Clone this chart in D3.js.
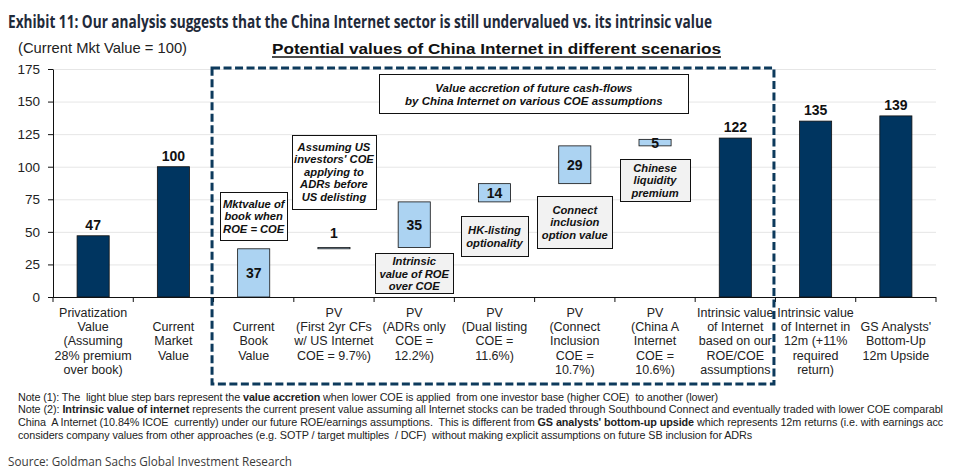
<!DOCTYPE html>
<html><head><meta charset="utf-8">
<script src="https://cdn.jsdelivr.net/npm/d3@7"></script>
<style>body{margin:0;background:#fff}svg{display:block}</style>
</head><body><svg id="c" width="977" height="473"></svg>
<script>
// ---------------- DATA ----------------
const categories = [
  ["Privatization","Value","(Assuming","28% premium","over book)"],
  ["Current","Market","Value"],
  ["Current","Book","Value"],
  ["PV","(First 2yr CFs","w/ US Internet","COE = 9.7%)"],
  ["PV","(ADRs only","COE =","12.2%)"],
  ["PV","(Dual listing","COE =","11.6%)"],
  ["PV","(Connect","Inclusion","COE =","10.7%)"],
  ["PV","(China A","Internet","COE =","10.6%)"],
  ["Intrinsic value","of Internet","based on our","ROE/COE","assumptions"],
  ["Intrinsic value","of Internet in","12m (+11%","required","return)"],
  ["GS Analysts'","Bottom-Up","12m Upside"]
];
const values = [47, 100, 37, 1, 35, 14, 29, 5, 122, 135, 139];
const bases  = [0, 0, 0, 37, 38, 73, 87, 116, 0, 0, 0];
const barTypes = ["value","value","accretion","accretion","accretion","accretion","accretion","accretion","value","value","value"];
const yTicks = [0, 25, 50, 75, 100, 125, 150, 175];
const annotationTexts = [
  ["Mktvalue of","book when","ROE = COE"],
  ["Assuming US","investors' COE","applying to","ADRs before","US delisting"],
  ["Intrinsic","value of ROE","over COE"],
  ["HK-listing","optionality"],
  ["Connect","inclusion","option value"],
  ["Chinese","liquidity","premium"],
  ["Value accretion of future cash-flows","by China Internet on various COE assumptions"]
];
const titleText = "Exhibit 11: Our analysis suggests that the China Internet sector is still undervalued vs. its intrinsic value";
const subtitleText = "(Current Mkt  Value = 100)";
const chartTitleText = "Potential  values  of China  Internet  in  different  scenarios";
const sourceText = "Source: Goldman Sachs Global Investment Research";

// ---------------- LAYOUT ----------------
const svg = d3.select("#c");
const FONT = "'Liberation Sans', Arial, sans-serif";
const DARK = "#003560", LIGHT = "#acd3f2";

const x = d3.scaleBand().domain(d3.range(categories.length)).range([53, 936]).padding(0);
const y = d3.scaleLinear().domain([0, 175]).range([297, 69]);
const barW = x.bandwidth() * 0.4;
const cx = i => x(i) + x.bandwidth() / 2;

// Title
svg.append("text").attr("x", 8).attr("y", 27.5)
  .attr("font-family", "'Open Sans', 'Noto Sans', sans-serif").attr("font-weight", 700)
  .attr("font-size", 17).attr("fill", "#1f2a3a")
  .attr("textLength", 704).attr("lengthAdjust", "spacingAndGlyphs")
  .text(titleText);

svg.append("text").attr("x", 18).attr("y", 52.5)
  .attr("font-family", FONT).attr("font-size", 14.5).attr("fill", "#222")
  .attr("textLength", 169).attr("lengthAdjust", "spacingAndGlyphs")
  .text(subtitleText);

svg.append("text").attr("x", 272).attr("y", 53.5)
  .attr("font-family", FONT).attr("font-weight", 700).attr("font-size", 15).attr("fill", "#111")
  .attr("textLength", 449).attr("lengthAdjust", "spacingAndGlyphs")
  .text(chartTitleText);
svg.append("line").attr("x1", 272).attr("x2", 721).attr("y1", 57).attr("y2", 57)
  .attr("stroke", "#111").attr("stroke-width", 1.6);

// Gridlines
svg.append("g").selectAll("line").data(yTicks.filter(d => d > 0)).join("line")
  .attr("x1", 53).attr("x2", 936).attr("y1", d => y(d) + 0.5).attr("y2", d => y(d) + 0.5)
  .attr("stroke", "#e6e6e6").attr("stroke-width", 1);

// Bars
svg.append("g").selectAll("rect").data(values).join("rect")
  .attr("x", (d, i) => cx(i) - barW / 2)
  .attr("width", barW)
  .attr("y", (d, i) => y(bases[i] + d))
  .attr("height", (d, i) => y(bases[i]) - y(bases[i] + d))
  .attr("fill", (d, i) => barTypes[i] === "value" ? DARK : LIGHT)
  .attr("stroke", "#111").attr("stroke-width", 0.8);

// Value labels
svg.append("g").selectAll("text").data(values).join("text")
  .attr("x", (d, i) => cx(i))
  .attr("y", (d, i) => {
    if (barTypes[i] === "accretion" && d >= 3) return (y(bases[i]) + y(bases[i] + d)) / 2 + 5;
    return y(bases[i] + d) - (barTypes[i] === "accretion" ? 9 : 6);
  })
  .attr("text-anchor", "middle").attr("font-family", FONT).attr("font-weight", 700)
  .attr("font-size", 14).attr("fill", "#111")
  .text(d => d);

// Y axis
const yAxis = svg.append("g").attr("transform", "translate(53,0)")
  .call(d3.axisLeft(y).tickValues(yTicks).tickSize(5).tickSizeOuter(0).tickPadding(8));
yAxis.select(".domain").attr("stroke", "#111");
yAxis.selectAll(".tick line").attr("stroke", "#111");
yAxis.selectAll("text").attr("font-family", FONT).attr("font-size", 13.5).attr("fill", "#222");

// X axis (boundaries between categories)
const bounds = d3.range(categories.length + 1).map(i => x.range()[0] + i * x.step());
const xg = svg.append("g");
xg.append("line").attr("x1", 53).attr("x2", 936).attr("y1", y(0) + 0.5).attr("y2", y(0) + 0.5)
  .attr("stroke", "#111");
xg.selectAll("line.t").data(bounds).join("line").attr("class", "t")
  .attr("x1", d => d).attr("x2", d => d).attr("y1", y(0)).attr("y2", y(0) + 5)
  .attr("stroke", "#111");

// X labels
const lbl = svg.append("g").attr("font-family", FONT).attr("font-size", 12.5).attr("fill", "#222")
  .attr("text-anchor", "middle");
categories.forEach((lines, i) => {
  const off = lines.length < 4 ? 1 : 0;
  const t = lbl.append("text");
  lines.forEach((ln, j) => {
    t.append("tspan").attr("x", cx(i)).attr("y", 317 + (j + off) * 14.2).text(ln);
  });
});

// Dashed box around the PV scenarios
svg.append("rect")
  .attr("x", bounds[2] - 1.5).attr("y", y(175) - 1)
  .attr("width", bounds[9] - bounds[2]).attr("height", 384 - (y(175) - 1))
  .attr("fill", "none").attr("stroke", "#0d3a5c").attr("stroke-width", 3)
  .attr("stroke-dasharray", "8,3.5");

// Annotation boxes (placed in data units)
const annLayout = [
  {c: 2,   w: 67,  top: 80.7,  bot: 43.7,  fill: "#ffffff"},
  {c: 3,   w: 84,  top: 124.7, bot: 68.0,  fill: "#ffffff"},
  {c: 4,   w: 78,  top: 33.5,  bot: 2.8,   fill: "#f2f2f2"},
  {c: 5,   w: 67,  top: 61.9,  bot: 31.4,  fill: "#f2f2f2"},
  {c: 6,   w: 75,  top: 77.4,  bot: 37.3,  fill: "#f2f2f2"},
  {c: 7,   w: 70,  top: 105.8, bot: 73.4,  fill: "#f2f2f2"},
  {c: 5.49, w: 309, top: 170.9, bot: 140.8, fill: "#ffffff"}
];
annLayout.forEach((a, k) => {
  const xc = x(0) + (a.c + 0.5) * x.step();
  const y0 = y(a.top), y1 = y(a.bot);
  const g = svg.append("g");
  g.append("rect").attr("x", Math.round(xc - a.w / 2) + 0.5).attr("y", Math.round(y0) + 0.5)
    .attr("width", a.w).attr("height", Math.round(y1 - y0))
    .attr("fill", a.fill).attr("stroke", "#111").attr("stroke-width", 1);
  const lines = annotationTexts[k];
  const lh = k === 6 ? 12.8 : 12.5;
  const mid = (y0 + y1) / 2;
  const t = g.append("text").attr("text-anchor", "middle").attr("font-family", FONT)
    .attr("font-weight", 700).attr("font-style", "italic").attr("font-size", k === 6 ? 11.5 : 11.2)
    .attr("fill", "#111");
  lines.forEach((ln, j) => {
    t.append("tspan").attr("x", xc).attr("y", mid + (j - (lines.length - 1) / 2) * lh + 4.2).text(ln);
  });
});

// Notes (fit each line to the reference width with letter-spacing)
const notes = svg.append("g").attr("font-family", FONT).attr("font-size", 10.8).attr("fill", "#222");
const noteLines = [
  {w: 700, parts: [["Note (1): The  light blue step bars represent the ", 400], ["value accretion", 700], [" when lower COE is applied  from one investor base (higher COE)  to another (lower)", 400]]},
  {w: 925, parts: [["Note (2): ", 400], ["Intrinsic value of internet", 700], [" represents the current present value assuming all Internet stocks can be traded through Southbound Connect and eventually traded with lower COE comparabl", 400]]},
  {w: 925, parts: [["China  A Internet (10.84% ICOE  currently) under our future ROE/earnings assumptions.  This is different from ", 400], ["GS analysts' bottom-up upside", 700], [" which represents 12m returns (i.e. with earnings acc", 400]]},
  {w: 734, parts: [["considers company values from other approaches (e.g. SOTP / target multiples  / DCF)  without making explicit assumptions on future SB inclusion for ADRs", 400]]}
];
noteLines.forEach((nl, j) => {
  const t = notes.append("text").attr("x", 18).attr("y", 400.7 + j * 12.7).style("white-space", "pre");
  nl.parts.forEach(p => t.append("tspan").attr("font-weight", p[1]).text(p[0]));
  const natural = t.node().getComputedTextLength();
  const nChars = nl.parts.reduce((s, p) => s + p[0].length, 0);
  const ls = Math.max(-0.4, Math.min(0.4, (nl.w - natural) / nChars));
  t.attr("letter-spacing", ls.toFixed(3));
});

// Source
svg.append("text").attr("x", 8).attr("y", 466)
  .attr("font-family", "'Open Sans', 'Noto Sans', sans-serif").attr("font-size", 13.5).attr("fill", "#3a3a3a")
  .attr("textLength", 284).attr("lengthAdjust", "spacingAndGlyphs")
  .text(sourceText);
</script></body></html>
